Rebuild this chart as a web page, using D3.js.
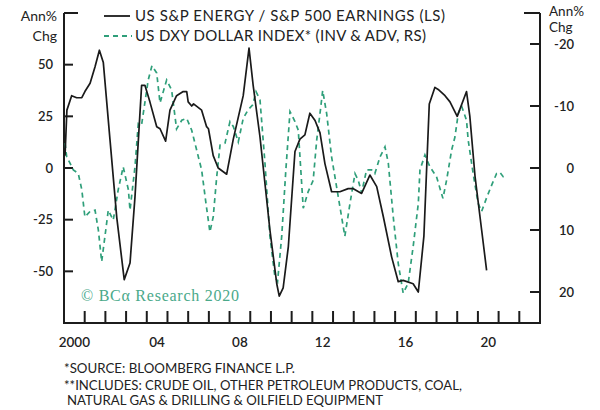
<!DOCTYPE html>
<html><head><meta charset="utf-8">
<script src="https://cdn.jsdelivr.net/npm/d3@7/dist/d3.min.js"></script>
<style>
html,body{margin:0;padding:0;background:#fff;}
svg{display:block;}
text{font-family:Lato,"Open Sans",sans-serif;fill:#222;}
</style></head>
<body>
<script>
// ---- data (decimal years) ----
const energyDates = [2000.05,2000.14,2000.37,2000.61,2000.86,2001.01,2001.26,2001.50,2001.71,2001.90,2002.22,2002.55,2002.91,2003.19,2003.43,2003.75,2003.91,2004.15,2004.48,2004.64,2004.91,2005.12,2005.44,2005.76,2005.93,2006.00,2006.17,2006.26,2006.65,2006.89,2006.98,2007.21,2007.45,2007.86,2008.18,2008.66,2008.94,2009.14,2009.47,2009.95,2010.28,2010.40,2010.59,2010.84,2011.16,2011.40,2011.64,2011.88,2012.13,2012.37,2012.61,2012.93,2013.33,2013.73,2013.98,2014.38,2014.78,2015.11,2015.43,2015.83,2016.15,2016.39,2016.87,2017.12,2017.39,2017.65,2017.92,2018.08,2018.41,2018.65,2019.00,2019.45,2019.61,2019.86,2020.18,2020.42];
const energyValues = [6,28,35,34,34,37,41,49,57,51,14,-24,-54,-46,-14,40,40,32,20,19,13,28,35,37,37,32,30,31,28,20,19,6,0,-3,14,35,58,40,15,-30,-56,-62,-58,-38,8,14,16,26.5,23,17,2,-11.5,-11.5,-10,-10,-12.3,-3.4,-9,-23.6,-43,-55,-54.4,-56,-60,-33,31,39,38,35,32,25,37,25,-4,-30,-49.5];

const dollarDates = [2000.05,2000.13,2000.29,2000.45,2000.69,2000.86,2001.01,2001.26,2001.50,2001.66,2001.82,2001.98,2002.14,2002.38,2002.62,2002.86,2003.11,2003.19,2003.43,2003.59,2003.75,2004.07,2004.25,2004.48,2004.64,2004.96,2005.20,2005.44,2005.69,2005.93,2006.17,2006.41,2006.65,2006.86,2007.05,2007.21,2007.38,2007.54,2007.78,2008.02,2008.18,2008.42,2008.66,2008.90,2009.12,2009.28,2009.47,2009.71,2009.95,2010.19,2010.32,2010.52,2010.72,2010.92,2011.16,2011.32,2011.56,2011.80,2012.04,2012.21,2012.37,2012.50,2012.69,2012.93,2013.25,2013.57,2013.82,2014.06,2014.22,2014.38,2014.62,2014.86,2015.02,2015.27,2015.51,2015.67,2015.91,2016.15,2016.39,2016.63,2016.87,2017.12,2017.20,2017.44,2017.68,2018.00,2018.31,2018.49,2018.73,2018.89,2019.05,2019.21,2019.45,2019.53,2019.77,2020.01,2020.18,2020.42,2020.66,2020.90,2021.06,2021.22,2021.38];
const dollarValues = [-4,-1.8,-0.8,0.3,0.9,3.5,7.9,7,6.8,10,15.1,11,6.8,8.4,3.5,-0.2,3.5,6.8,-0.2,-7.2,-7,-14.2,-16.5,-15.3,-10.5,-14.2,-12.6,-6.3,-7.7,-8,-6.1,-2.9,0.3,5.7,10.3,7.9,1.4,-3.7,-4,-7.5,-6.7,-4.2,-8,-9.4,-10.2,-12.3,-11,-0.8,11,17.5,18.3,11,0.3,-9.1,-7.5,-6.1,6.5,3.8,2,-4.5,-8.8,-12.5,-8.8,-1.8,4.6,11,5.7,0.9,2,4,0.3,0.3,0.9,-1.8,-3.4,-0.8,7.9,15.4,20.2,18.6,12.7,5.7,0.3,-2.1,-0.2,1.4,4.9,1.9,-2.9,-5,-8.8,-10,-7.7,-4.5,0.9,5.7,7,4.8,2.8,0.9,0.7,1.4,1];

const leftTicks = [-50,-25,0,25,50];
const rightTicks = [-20,-10,0,10,20];
const yearTicks = d3.range(2001, 2023);
const yearLabels = [2000,2004,2008,2012,2016,2020];
const legendLabels = ["US S&P ENERGY / S&P 500 EARNINGS (LS)", "US DXY DOLLAR INDEX* (INV & ADV, RS)"];
const footnotes = ["*SOURCE: BLOOMBERG FINANCE L.P.", "**INCLUDES: CRUDE OIL, OTHER PETROLEUM PRODUCTS, COAL,", "NATURAL GAS & DRILLING & OILFIELD EQUIPMENT"];

const W = 600, H = 410;
const L = 64, R = 540, T = 13, B = 323;
const axisColor = "#1c1c1c", green = "#2f9f7a";

const svg = d3.select("body").append("svg").attr("width", W).attr("height", H);

const x = d3.scaleLinear().domain([2000, 2023]).range([L, R]);
const yL = d3.scaleLinear().domain([-75, 75]).range([B, T]);
const yR = d3.scaleLinear().domain([-25, 25]).range([T, B]);

// axes frame
const frame = svg.append("g").attr("stroke", axisColor).attr("stroke-width", 2).attr("fill", "none");
frame.append("line").attr("x1", L).attr("x2", L).attr("y1", T).attr("y2", B + 1);
frame.append("line").attr("x1", R).attr("x2", R).attr("y1", T).attr("y2", B + 1);
frame.append("line").attr("x1", L - 1).attr("x2", R + 1).attr("y1", B).attr("y2", B);
frame.append("line").attr("x1", L).attr("x2", L + 14).attr("y1", T).attr("y2", T);
frame.append("line").attr("x1", R - 16).attr("x2", R).attr("y1", T).attr("y2", T);

// left ticks
const gl = svg.append("g");
leftTicks.forEach(v => {
  gl.append("line").attr("x1", L).attr("x2", L + 9).attr("y1", yL(v)).attr("y2", yL(v))
    .attr("stroke", axisColor).attr("stroke-width", 2);
  gl.append("text").attr("x", 53).attr("y", yL(v)).attr("dy", "0.35em")
    .attr("text-anchor", "end").attr("font-size", 13).attr("font-weight", 600).text(v);
});
// right ticks
const gr = svg.append("g");
rightTicks.forEach(v => {
  gr.append("line").attr("x1", R - 10).attr("x2", R).attr("y1", yR(v)).attr("y2", yR(v))
    .attr("stroke", axisColor).attr("stroke-width", 2);
  gr.append("text").attr("x", 574).attr("y", yR(v)).attr("dy", "0.38em")
    .attr("text-anchor", "end").attr("font-size", 13).attr("font-weight", 600).text(v);
});
// x ticks
const gx = svg.append("g");
yearTicks.forEach(yr => {
  gx.append("line").attr("x1", x(yr)).attr("x2", x(yr)).attr("y1", B).attr("y2", B - 12)
    .attr("stroke", axisColor).attr("stroke-width", 2);
});
yearLabels.forEach(yr => {
  gx.append("text").attr("x", x(yr + 0.5)).attr("y", 347).attr("text-anchor", "middle")
    .attr("font-size", 13.5).attr("font-weight", 600)
    .text(yr === 2000 ? "2000" : String(yr % 100).padStart(2, "0"));
});

// axis unit labels
svg.append("text").attr("x", 57).attr("y", 21).attr("text-anchor", "end").attr("font-size", 14).text("Ann%");
svg.append("text").attr("x", 57).attr("y", 41).attr("text-anchor", "end").attr("font-size", 14).text("Chg");
svg.append("text").attr("x", 549).attr("y", 16).attr("font-size", 13.5).text("Ann%");
svg.append("text").attr("x", 549).attr("y", 32).attr("font-size", 13.5).text("Chg");

// watermark
svg.append("text").attr("x", 81).attr("y", 301)
  .style("font-family", "'Liberation Serif', 'DejaVu Serif', serif")
  .attr("font-size", 16).attr("textLength", 158).attr("lengthAdjust", "spacing")
  .style("fill", "#4aa98a").text("© BCα Research 2020");

// series
const lineE = d3.line().x((d, i) => x(energyDates[i])).y(d => yL(d));
const lineD = d3.line().x((d, i) => x(dollarDates[i])).y(d => yR(d));

svg.append("path").datum(dollarValues).attr("d", lineD).attr("fill", "none")
  .attr("stroke", green).attr("stroke-width", 1.7).attr("stroke-dasharray", "5,4");
svg.append("path").datum(energyValues).attr("d", lineE).attr("fill", "none")
  .attr("stroke", "#1a1a1a").attr("stroke-width", 1.7).attr("stroke-linejoin", "round");

// legend
const lg = svg.append("g");
lg.append("line").attr("x1", 104).attr("x2", 130).attr("y1", 16).attr("y2", 16).attr("stroke", "#1a1a1a").attr("stroke-width", 1.8);
lg.append("line").attr("x1", 104).attr("x2", 132).attr("y1", 36).attr("y2", 36).attr("stroke", green).attr("stroke-width", 1.8).attr("stroke-dasharray", "5,4");
lg.append("text").attr("x", 135).attr("y", 21).attr("font-size", 15)
  .attr("textLength", 310).attr("lengthAdjust", "spacing").text(legendLabels[0]);
lg.append("text").attr("x", 135).attr("y", 41).attr("font-size", 15)
  .attr("textLength", 291).attr("lengthAdjust", "spacing").text(legendLabels[1]);

// footnotes
const fn = svg.append("g");
const fnLen = [231, 398, 316];
const fnX = [64, 64, 67];
const fnY = [373, 390, 405];
footnotes.forEach((t, i) => {
  fn.append("text").attr("x", fnX[i]).attr("y", fnY[i]).attr("font-size", 13)
    .attr("textLength", fnLen[i]).attr("lengthAdjust", "spacingAndGlyphs").text(t);
});
</script>
</body></html>
